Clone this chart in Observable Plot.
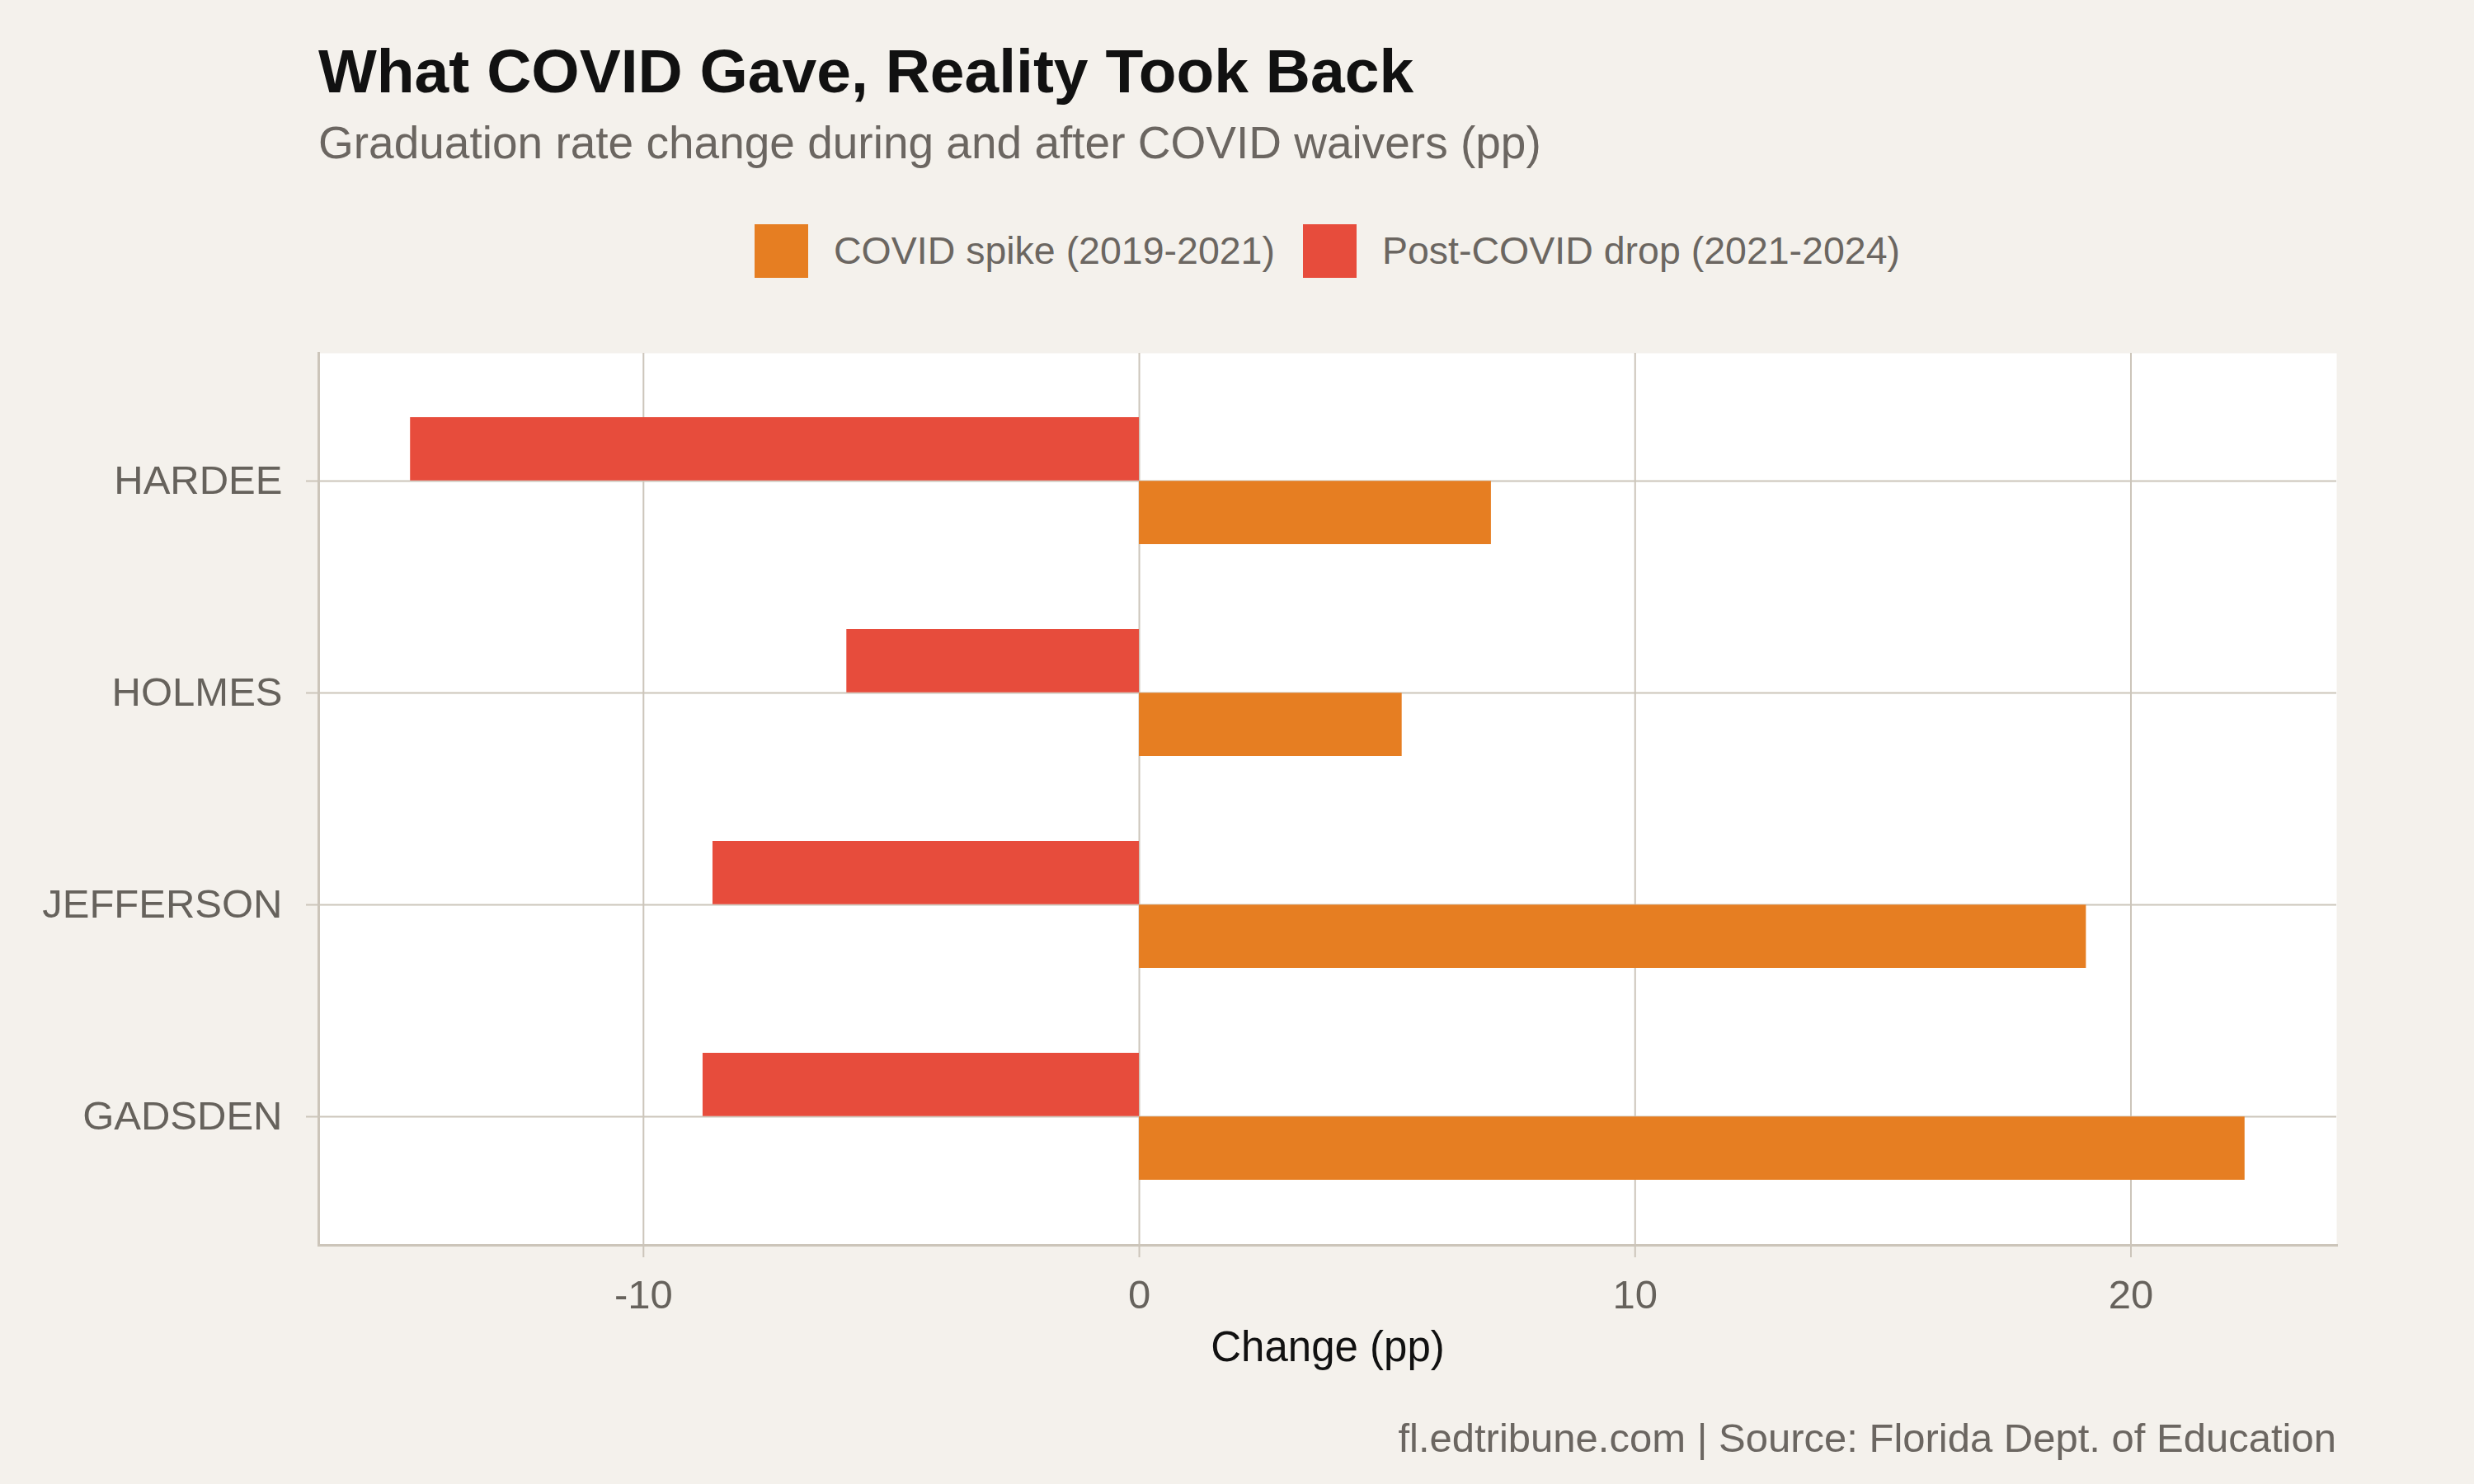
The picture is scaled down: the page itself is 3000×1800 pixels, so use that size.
<!DOCTYPE html>
<html><head><meta charset="utf-8">
<script src="https://cdn.jsdelivr.net/npm/d3@7"></script>
<script src="https://cdn.jsdelivr.net/npm/@observablehq/plot@0.6"></script>
<style>
html,body{margin:0;padding:0;background:#F4F1EC;}
#wrap{position:relative;width:3000px;height:1800px;font-family:"Liberation Sans",Arial,sans-serif;}
#header{position:relative;height:380px;}
.title{position:absolute;left:386px;top:49px;font-size:75px;line-height:1;font-weight:bold;color:#111;white-space:nowrap;}
.subtitle{position:absolute;left:386px;top:146px;font-size:55px;line-height:1;color:#6B6661;white-space:nowrap;}
.legend{position:absolute;left:386px;width:2447px;top:272px;height:65px;display:flex;justify-content:center;align-items:center;}
.item{display:flex;align-items:center;margin:0 17px;}
.sw{width:65px;height:65px;margin-right:31px;}
.lab{font-size:46.5px;line-height:1;color:#6B6661;white-space:nowrap;}
#chart svg{display:block;}
.caption{margin-top:40px;width:2833px;text-align:right;font-size:49px;line-height:1;color:#6B6661;white-space:nowrap;}
</style></head>
<body>
<div id="wrap">
  <div id="header">
    <div class="title">What COVID Gave, Reality Took Back</div>
    <div class="subtitle">Graduation rate change during and after COVID waivers (pp)</div>
    <div class="legend" id="legend"></div>
  </div>
  <div id="chart"></div>
  <div class="caption">fl.edtribune.com | Source: Florida Dept. of Education</div>
</div>
<script>
// Data
const counties = ["HARDEE", "HOLMES", "JEFFERSON", "GADSDEN"];
const covidSpike = [7.1, 5.3, 19.1, 22.3];      // 2019-2021
const postCovidDrop = [-14.7, -5.9, -8.6, -8.8]; // 2021-2024
const seriesNames = ["COVID spike (2019-2021)", "Post-COVID drop (2021-2024)"];
const seriesColors = ["#E67E22", "#E74C3C"];
const xTicks = [-10, 0, 10, 20];

const rows = counties.map((c, i) => ({county: c, spike: covidSpike[i], drop: postCovidDrop[i]}));

// Legend
const legend = document.getElementById("legend");
seriesNames.forEach((n, i) => {
  const it = document.createElement("div"); it.className = "item";
  const sw = document.createElement("div"); sw.className = "sw"; sw.style.background = seriesColors[i];
  const lb = document.createElement("div"); lb.className = "lab"; lb.textContent = n;
  it.appendChild(sw); it.appendChild(lb); legend.appendChild(it);
});

// Layout
const W = 3000, H = 1300, mT = 48, mB = 170, mL = 386, mR = 167;
const pIn = 0.4, pOut = 0.3;
const step = (H - mT - mB) / (counties.length - pIn + 2 * pOut);
const half = step * (1 - pIn) / 2;

const allVals = covidSpike.concat(postCovidDrop, [0]);
const lo = d3.min(allVals), hi = d3.max(allVals);
const pad = (hi - lo) * 0.05;
const xDomain = [lo - pad, hi + pad];

const grid = "#CCC5BA";
const txt = "#66625C";

const chart = Plot.plot({
  width: W, height: H,
  marginTop: mT, marginBottom: mB, marginLeft: mL, marginRight: mR,
  style: {fontFamily: "Liberation Sans, Arial, sans-serif", background: "transparent"},
  x: {domain: xDomain, ticks: xTicks},
  y: {domain: counties, paddingInner: pIn, paddingOuter: pOut},
  marks: [
    Plot.frame({fill: "white", stroke: "none"}),
    Plot.gridX({ticks: xTicks, stroke: grid, strokeOpacity: 1, strokeWidth: 2}),
    Plot.gridY({stroke: grid, strokeOpacity: 1, strokeWidth: 2}),
    Plot.barX(rows, {x: "drop", y: "county", fill: seriesColors[1], insetBottom: half}),
    Plot.barX(rows, {x: "spike", y: "county", fill: seriesColors[0], insetTop: half}),
    Plot.frame({anchor: "left", stroke: grid, strokeWidth: 3}),
    Plot.frame({anchor: "bottom", stroke: grid, strokeWidth: 3}),
    Plot.axisX({ticks: xTicks, tickSize: 15, tickPadding: 27, fontSize: 49, stroke: grid, strokeWidth: 2, fill: txt, label: null, tickFormat: d => d < 0 ? "-" + Math.abs(d) : String(d)}),
    Plot.axisY({tickSize: 15, tickPadding: 29, fontSize: 49, stroke: grid, strokeWidth: 2, fill: txt, label: null}),
    Plot.text(["Change (pp)"], {text: d => d, frameAnchor: "bottom", lineAnchor: "middle", dy: 124, fontSize: 51, fill: "#111"})
  ]
});
document.getElementById("chart").appendChild(chart);
</script>
</body></html>
